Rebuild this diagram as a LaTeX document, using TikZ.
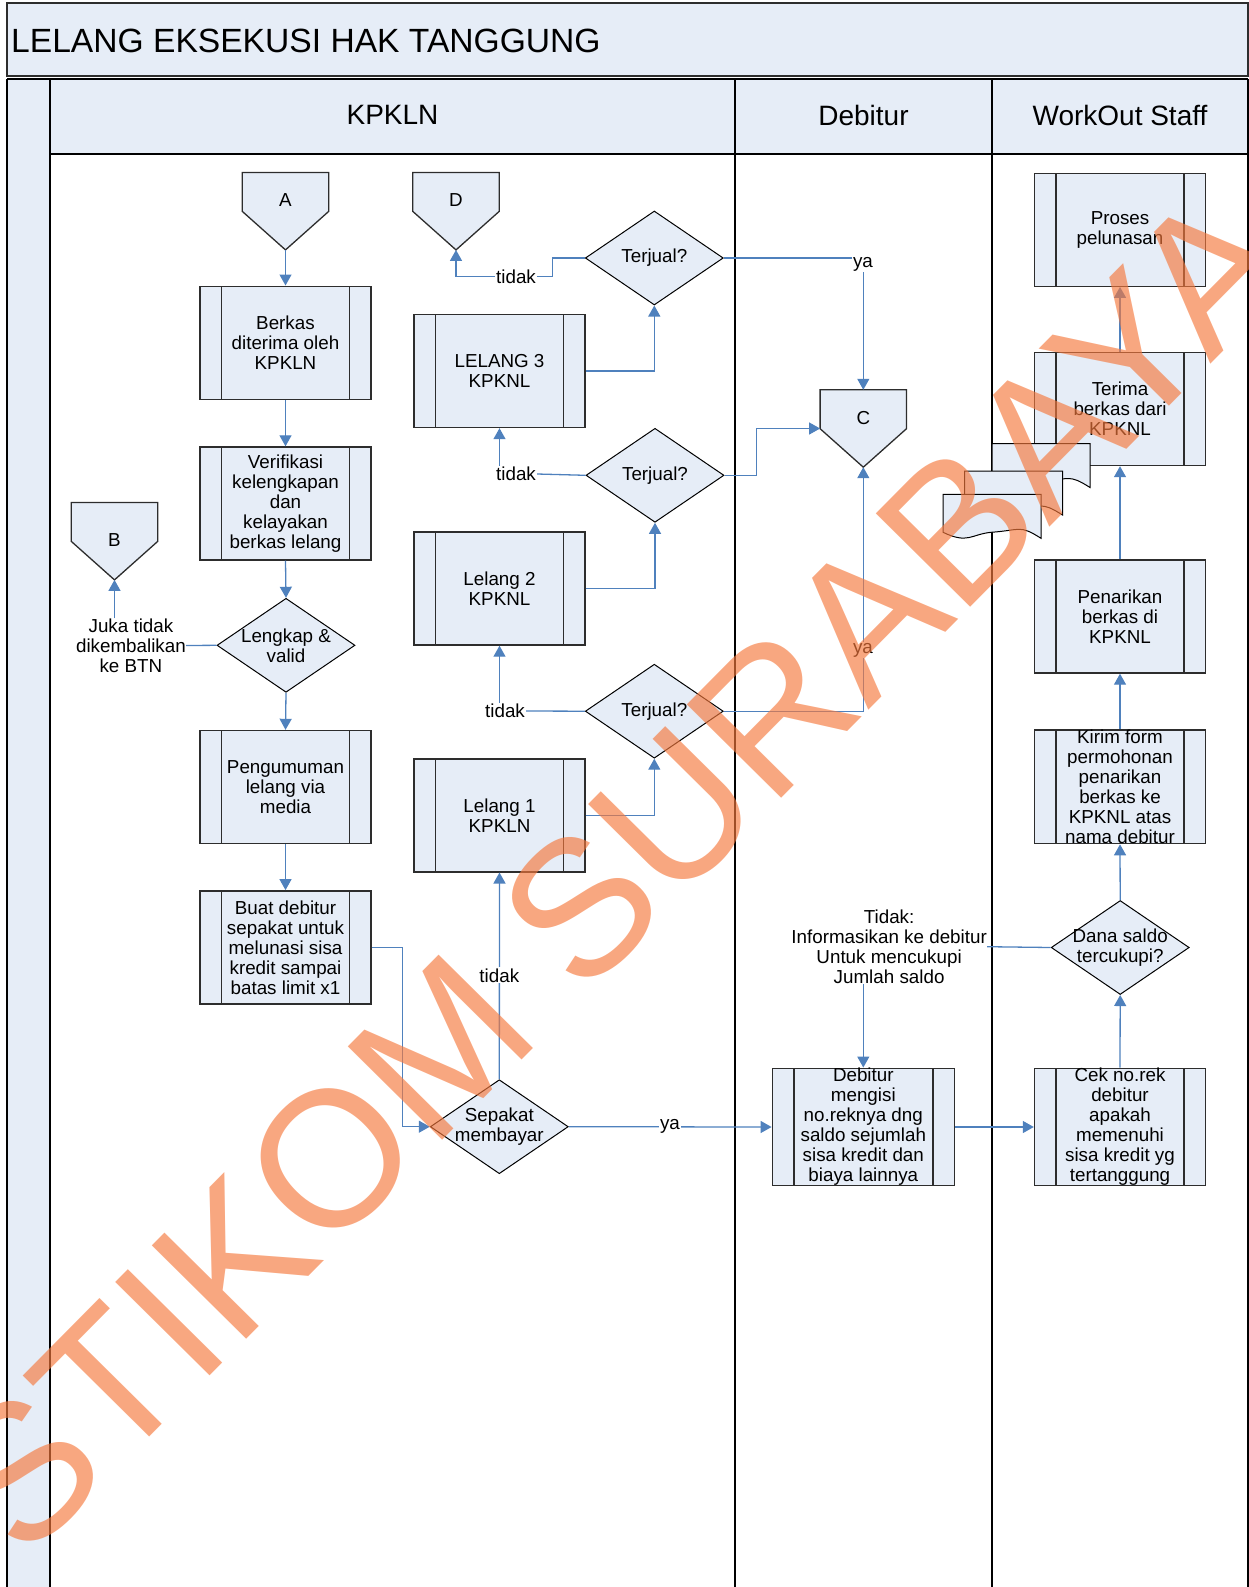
\documentclass[tikz,border=0pt]{standalone}
\usepackage{fontspec}
\setmainfont{Liberation Sans}
\usetikzlibrary{shapes.geometric,arrows.meta}
\definecolor{lb}{RGB}{230,237,247}
\definecolor{cb}{RGB}{79,129,189}
\definecolor{wm}{RGB}{245,120,60}
\definecolor{boxline}{RGB}{45,45,45}
\newcommand\bodyfont{\fontsize{18.8}{20}\selectfont}
\newcommand\offpagedraw[1]{\filldraw[fill=lb, draw=boxline, line width=1.3pt] (#1.north west) -- (#1.north east) -- ([yshift=38.5pt]#1.south east) -- (#1.south) -- ([yshift=38.5pt]#1.south west) -- cycle;}
\newcommand\docdraw[2]{\filldraw[fill=lb, draw=black, line width=1pt] (#1,#2) -- ++(98,0) -- ++(0,44) .. controls ++(-22,-14) and ++(30,-2) .. ++(-50,-6) .. controls ++(-20,2) and ++(25,12) .. ++(-48,0) -- cycle;}
\begin{document}
\begin{tikzpicture}[x=1pt,y=-1pt,
  proc/.style={rectangle, draw=boxline, line width=1.4pt, fill=lb, minimum width=171pt, minimum height=113pt, inner sep=0pt, align=center, font=\bodyfont,
    path picture={\draw[line width=1.4pt, draw=boxline] ([xshift=21.5pt]path picture bounding box.north west) -- ([xshift=21.5pt]path picture bounding box.south west) ([xshift=-21.5pt]path picture bounding box.north east) -- ([xshift=-21.5pt]path picture bounding box.south east);}},
  wproc/.style={proc, minimum width=182pt},
  diam/.style={diamond, draw=black, line width=1pt, fill=lb, minimum width=138pt, minimum height=94pt, inner sep=0pt, aspect=1.47},
  offp/.style={rectangle, minimum width=86pt, minimum height=77pt, inner sep=0pt},
  txt/.style={font=\bodyfont, align=center, inner sep=0pt},
  lbl/.style={font=\bodyfont, align=center, fill=white, inner sep=1pt},
  hdr/.style={font=\fontsize{28}{32}\selectfont, inner sep=0pt},
  lane/.style={draw=black, line width=1.8pt},
  flow/.style={draw=cb, line width=1.3pt, -{Triangle[length=11pt,width=12pt]}},
  plain/.style={draw=cb, line width=1.3pt}
]
\useasboundingbox (0,0) rectangle (1249,1587);
% frame
\filldraw[fill=lb, draw=boxline, line width=1.5pt] (7,3) rectangle (1248,76);
\fill[lb] (7,79) rectangle (50,1592);
\fill[lb] (50,79) rectangle (1248,154);
\draw[lane] (7,79) -- (1248,79);
\draw[lane] (50,154) -- (1248,154);
\draw[lane] (7,79) -- (7,1592);
\draw[lane] (50,79) -- (50,1592);
\draw[lane] (735,79) -- (735,1592);
\draw[lane] (992,79) -- (992,1592);
\draw[lane] (1248,79) -- (1248,1592);
\node[font=\fontsize{33.6}{36}\selectfont, anchor=west, inner sep=0pt] (title) at (11,40.5) {LELANG EKSEKUSI HAK TANGGUNG};
\node[hdr] (h1) at (392.5,115) {KPKLN};
\node[hdr] (h2) at (863.5,115) {Debitur};
\node[hdr] (h3) at (1120,115) {WorkOut Staff};

% off-page connectors
\node[offp] (A) at (285.5,211.2) {};
\node[offp] (D) at (456,211.2) {};
\node[offp] (B) at (114.5,541.2) {};
\node[offp] (C) at (863.3,428.5) {};
\offpagedraw{A}\offpagedraw{D}\offpagedraw{B}\offpagedraw{C}
\node[txt] (At) at (285.5,200.4) {A};
\node[txt] (Dt) at (456,200) {D};
\node[txt] (Bt) at (114.5,540.5) {B};
\node[txt] (Ct) at (863.3,418) {C};

% KPKLN column
\node[proc] (B1) at (285.5,342.7) {Berkas\\diterima oleh\\KPKLN};
\node[proc] (V) at (285.5,503.5) {Verifikasi\\kelengkapan\\dan\\kelayakan\\berkas lelang};
\node[diam] (LV) at (286,645.3) {};
\node[txt] (LVt) at (LV) {Lengkap \&\\valid};
\node[proc] (P) at (285.5,787) {Pengumuman\\lelang via\\media};
\node[proc] (BD) at (285.5,947.3) {Buat debitur\\sepakat untuk\\melunasi sisa\\kredit sampai\\batas limit x1};
\node[diam] (SP) at (499.3,1126.7) {};
\node[txt] (SPt) at (SP) {Sepakat\\membayar};
\node[proc] (L1) at (499.5,815.3) {Lelang 1\\KPKLN};
\node[proc] (L2) at (499.5,588.5) {Lelang 2\\KPKNL};
\node[proc] (L3) at (499.5,371) {LELANG 3\\KPKNL};
\node[diam] (T1) at (654.3,711.2) {};
\node[txt] (T1t) at (T1) {Terjual?};
\node[diam] (T2) at (655,475.3) {};
\node[txt] (T2t) at (T2) {Terjual?};
\node[diam] (T3) at (654.3,258) {};
\node[txt] (T3t) at (T3) {Terjual?};

% Debitur column
\node[wproc] (DB) at (863.3,1127) {Debitur\\mengisi\\no.reknya dng\\saldo sejumlah\\sisa kredit dan\\biaya lainnya};

% WorkOut column
\node[proc] (CK) at (1120,1127) {Cek no.rek\\debitur\\apakah\\memenuhi\\sisa kredit yg\\tertanggung};
\node[diam] (DS) at (1120.2,947.5) {};
\node[txt] (DSt) at (DS) {Dana saldo\\tercukupi?};
\node[proc] (KF) at (1120,786.7) {Kirim form\\permohonan\\penarikan\\berkas ke\\KPKNL atas\\nama debitur};
\node[proc] (PN) at (1120,616.5) {Penarikan\\berkas di\\KPKNL};
\node[proc] (TB) at (1120,409) {Terima\\berkas dari\\KPKNL};
\node[proc] (PR) at (1120,229.7) {Proses\\pelunasan};

% documents
\docdraw{992}{443.5}
\docdraw{964.5}{471}
\docdraw{943}{494.3}

% side labels
\node[txt, anchor=east] (juka) at (186,645.5) {Juka tidak\\dikembalikan\\ke BTN};
\node[txt, anchor=east] (info) at (987,946.7) {Tidak:\\Informasikan ke debitur\\Untuk mencukupi\\Jumlah saldo};
\node[lbl] (td1) at (516,276.7) {tidak};
\node[lbl] (td2) at (516,474) {tidak};
\node[lbl] (td3) at (505,711) {tidak};

% connectors
\draw[flow] (A.south) -- (B1.north);
\draw[flow] (B1.south) -- (V.north);
\draw[flow] (V.south) -- (LV.north);
\draw[flow] (LV.south) -- (P.north);
\draw[flow] (P.south) -- (BD.north);
\draw[flow] (BD.east) -- (402.7,947.3) |- (SP.west);
\draw[flow] (SP.north) -- (L1.south);
\draw[flow] (SP.east) -- (DB.west);
\draw[flow] (L1.east) -| (T1.south);
\draw[plain] (T1.west) -- (td3.east);
\draw[flow] (L2.south |- td3.north) -- (L2.south);
\draw[flow] (L2.east) -| (T2.south);
\draw[plain] (T2.west) -- (td2.east);
\draw[flow] (L3.south |- td2.north) -- (L3.south);
\draw[flow] (L3.east) -| (T3.south);
\draw[plain] (T3.west) -- (552.7,258) |- (td1.east);
\draw[flow] (td1.west) -| (D.south);
\draw[flow] (T3.east) -| (C.north);
\draw[flow] (T2.east) -- (756.7,475.3) |- (C.west);
\draw[flow] (T1.east) -| (C.south);
\draw[flow] (DB.east) -- (CK.west);
\draw[flow] (CK.north) -- (DS.south);
\draw[flow] (DS.north) -- (KF.south);
\draw[flow] (KF.north) -- (PN.south);
\draw[flow] (PN.north) -- (TB.south);
\draw[flow] (TB.north) -- (PR.south);
\draw[plain] (DS.west) -- (info.east);
\draw[flow] (DB.north |- info.south) -- (DB.north);
\draw[plain] (LV.west) -- (juka.east);
\draw[flow] (B.south |- juka.north) -- (B.south);

% labels on connectors
\node[lbl] (ya1) at (863,264) {ya};
\node[lbl] (ya2) at (863,650) {ya};
\node[lbl] (ya3) at (670,1126.6) {ya};
\node[lbl] (td4) at (499.3,975.3) {tidak};

% watermark
\node[rotate=45.3, anchor=base west, text=wm, opacity=0.65, font=\fontsize{193}{193}\selectfont, inner sep=0pt] (wmark) at (24,1563.7) {STIKOM SURABAYA};
\end{tikzpicture}
\end{document}
